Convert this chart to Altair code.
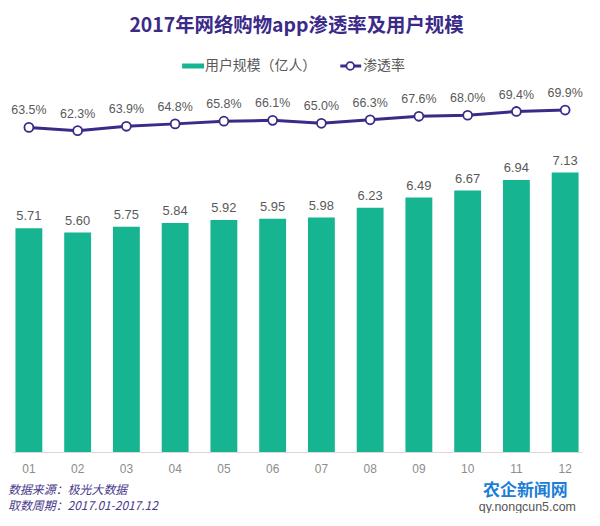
import altair as alt
import pandas as pd

# ---- data ----
months = ["01", "02", "03", "04", "05", "06", "07", "08", "09", "10", "11", "12"]
users = [5.71, 5.60, 5.75, 5.84, 5.92, 5.95, 5.98, 6.23, 6.49, 6.67, 6.94, 7.13]
rate = [63.5, 62.3, 63.9, 64.8, 65.8, 66.1, 65.0, 66.3, 67.6, 68.0, 69.4, 69.9]

title_text = "2017年网络购物app渗透率及用户规模"
legend_bar = "用户规模（亿人）"
legend_line = "渗透率"
note1 = "数据来源：极光大数据"
note2 = "取数周期：2017.01-2017.12"
mark1 = "农企新闻网"
mark2 = "qy.nongcun5.com"

df = pd.DataFrame({"month": months, "users": users, "rate": rate})
df["users_label"] = [f"{v:.2f}" for v in users]
df["rate_label"] = [f"{v:.1f}%" for v in rate]

TEAL = "#17b491"
PURPLE = "#3b2a88"
GRAY = "#595959"
NUM_FONT = "Liberation Sans"
CJK = "Noto Sans CJK SC"

W, H = 573, 367

x = alt.X(
    "month:N",
    sort=months,
    title=None,
    scale=alt.Scale(paddingInner=0.449, paddingOuter=0.0714),
    axis=alt.Axis(
        labelAngle=0, ticks=False, grid=False, domainColor="#d9d9d9",
        labelColor="#8c8c8c", labelFontSize=12, labelPadding=12, labelFont=NUM_FONT,
    ),
)
ybar = alt.Y("users:Q", scale=alt.Scale(domain=[0, 9.315], nice=False, zero=True), axis=None)
yline = alt.Y("rate:Q", scale=alt.Scale(domain=[-56.46, 78.47], nice=False, zero=False), axis=None)

base = alt.Chart(df)
bars = base.mark_bar(color=TEAL).encode(x=x, y=ybar)
bar_text = base.mark_text(dy=-12, fontSize=13, color=GRAY, font=NUM_FONT).encode(
    x=x, y=ybar, text="users_label:N")
line = base.mark_line(color=PURPLE, strokeWidth=3).encode(x=x, y=yline)
pts = base.mark_point(shape="circle", filled=False, fill="white", fillOpacity=1,
                      stroke=PURPLE, strokeWidth=1.8, size=80, opacity=1).encode(x=x, y=yline)
line_text = base.mark_text(dy=-17, fontSize=12.5, color=GRAY, font=NUM_FONT).encode(
    x=x, y=yline, text="rate_label:N")

one = pd.DataFrame({"a": [0]})


def txt(s, xv, yv, **kw):
    return alt.Chart(one).mark_text(**kw).encode(
        x=alt.value(xv), y=alt.value(yv), text=alt.value(s))


title = txt(title_text, 286, -61, fontSize=19.5, fontWeight="bold", color=PURPLE, font=CJK,
            baseline="middle")
leg_rect = alt.Chart(one).mark_rect(color=TEAL).encode(
    x=alt.value(171), x2=alt.value(193), y=alt.value(-23.5), y2=alt.value(-18.5))
leg_t1 = txt(legend_bar, 194, -21, fontSize=14, color=GRAY, font=CJK, align="left", baseline="middle")
leg_rule = alt.Chart(one).mark_rule(color=PURPLE, strokeWidth=3).encode(
    x=alt.value(330), x2=alt.value(351), y=alt.value(-21))
leg_pt = alt.Chart(one).mark_point(shape="circle", filled=False, fill="white", fillOpacity=1,
                                   stroke=PURPLE, strokeWidth=1.8, size=60, opacity=1).encode(
    x=alt.value(340), y=alt.value(-21))
leg_t2 = txt(legend_line, 353, -21, fontSize=14, color=GRAY, font=CJK, align="left", baseline="middle")

n1 = txt(note1, -4, 405.5, fontSize=12, fontStyle="italic", color="#4a3a8c", font=CJK,
         align="left", baseline="middle")
n2 = txt(note2, -4, 421, fontSize=12, fontStyle="italic", color="#4a3a8c", font=CJK,
         align="left", baseline="middle")
w1 = txt(mark1, 516, 406, fontSize=17, fontWeight="bold", color="#1c7ed6", font=CJK,
         baseline="middle")
w2 = txt(mark2, 518, 422, fontSize=12.5, color="#555555", font=NUM_FONT, baseline="middle")

chart = alt.layer(
    bars, bar_text, line, pts, line_text,
    title, leg_rect, leg_t1, leg_rule, leg_pt, leg_t2, n1, n2, w1, w2,
).resolve_scale(y="independent").properties(
    width=W, height=H,
    autosize=alt.AutoSizeParams(type="none"),
    padding={"left": 4, "top": 78, "right": 10, "bottom": 60},
).configure_view(stroke=None)

chart.save("out.html", embed_options={"renderer": "svg", "actions": False})
